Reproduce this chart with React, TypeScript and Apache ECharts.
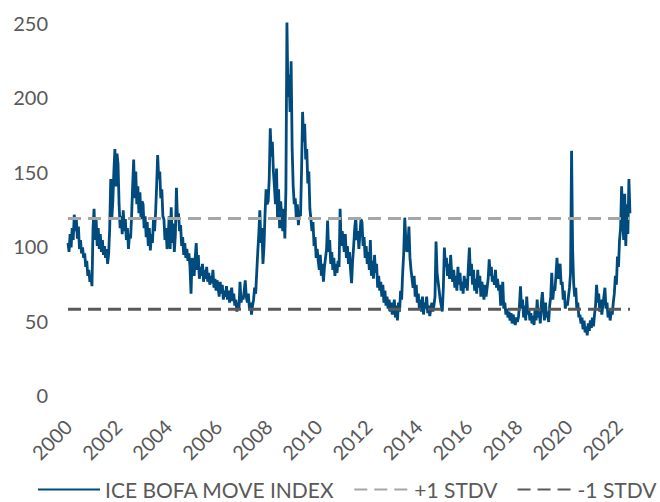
import React, { useEffect, useRef } from "react";
import * as echarts from "echarts";

// Semi-monthly readings of the ICE BofA MOVE Index (24 per year)
const move2000 = [102, 96, 108, 99, 112, 104, 121, 110, 118, 105, 113, 98, 104, 95, 99, 92, 95, 86, 90, 80, 84, 76, 80, 73];
const move2001 = [112, 125, 104, 118, 100, 112, 98, 108, 96, 104, 94, 100, 92, 98, 88, 95, 112, 145, 118, 130, 150, 165, 140, 162];
const move2002 = [155, 128, 112, 120, 108, 124, 110, 118, 104, 112, 98, 108, 105, 120, 140, 158, 132, 150, 128, 140, 122, 136, 118, 130];
const move2003 = [128, 112, 120, 106, 116, 100, 112, 97, 108, 102, 118, 110, 122, 140, 161, 145, 150, 132, 138, 120, 118, 104, 112, 98];
const move2004 = [104, 120, 98, 126, 102, 115, 96, 108, 139, 118, 122, 110, 114, 100, 106, 94, 102, 92, 98, 90, 95, 86, 68, 92];
const move2005 = [88, 80, 92, 102, 84, 94, 78, 86, 80, 88, 76, 84, 78, 86, 76, 82, 74, 80, 75, 84, 72, 78, 70, 77];
const move2006 = [72, 66, 76, 68, 74, 64, 70, 66, 73, 64, 70, 62, 68, 72, 63, 68, 60, 64, 56, 62, 58, 76, 62, 66];
const move2007 = [64, 70, 77, 66, 62, 68, 58, 62, 54, 60, 64, 72, 68, 82, 96, 108, 124, 102, 112, 88, 100, 122, 138, 128];
const move2008 = [130, 145, 179, 160, 170, 150, 140, 128, 152, 118, 138, 112, 130, 120, 110, 125, 105, 138, 250, 200, 215, 190, 224, 165];
const move2009 = [140, 128, 132, 118, 128, 114, 124, 120, 150, 190, 170, 182, 158, 165, 142, 150, 125, 118, 110, 116, 100, 106, 92, 98];
const move2010 = [90, 84, 94, 80, 88, 76, 86, 92, 98, 117, 96, 104, 88, 96, 84, 92, 80, 88, 82, 90, 86, 125, 100, 110];
const move2011 = [104, 96, 108, 92, 100, 88, 96, 84, 75, 90, 100, 112, 119, 104, 110, 98, 108, 118, 116, 100, 106, 92, 100, 88];
const move2012 = [96, 84, 104, 80, 90, 78, 94, 82, 88, 72, 80, 70, 76, 66, 74, 62, 70, 60, 66, 58, 64, 56, 62, 54];
const move2013 = [58, 64, 52, 60, 50, 62, 56, 70, 64, 82, 95, 119, 104, 96, 100, 113, 92, 84, 78, 72, 80, 66, 74, 62];
const move2014 = [68, 58, 64, 56, 66, 54, 62, 58, 66, 55, 60, 53, 58, 62, 56, 60, 66, 103, 82, 76, 70, 64, 60, 56];
const move2015 = [72, 99, 86, 92, 80, 88, 78, 94, 82, 76, 84, 72, 80, 70, 86, 74, 82, 70, 76, 68, 80, 72, 78, 70];
const move2016 = [86, 99, 80, 88, 74, 84, 70, 78, 68, 84, 72, 80, 66, 76, 70, 64, 74, 66, 72, 78, 91, 80, 86, 76];
const move2017 = [80, 74, 84, 72, 78, 70, 74, 60, 66, 76, 58, 62, 54, 58, 52, 56, 50, 55, 48, 54, 50, 47, 52, 49];
const move2018 = [52, 60, 73, 58, 64, 52, 60, 50, 66, 54, 58, 50, 55, 48, 53, 47, 58, 50, 64, 52, 56, 48, 62, 69];
const move2019 = [58, 50, 62, 52, 56, 49, 60, 66, 82, 64, 72, 70, 80, 92, 78, 86, 88, 74, 76, 64, 70, 58, 62, 60];
const move2020 = [66, 72, 82, 164, 98, 75, 66, 72, 58, 62, 52, 54, 48, 52, 44, 50, 42, 46, 40, 48, 43, 50, 45, 52];
const move2021 = [46, 54, 60, 74, 62, 68, 56, 64, 54, 60, 66, 72, 58, 62, 52, 58, 50, 56, 54, 62, 68, 80, 74, 93];
const move2022 = [86, 104, 112, 140, 118, 104, 135, 100, 128, 108, 145, 122];

const startYears = [2000, 2001, 2002, 2003, 2004, 2005, 2006, 2007, 2008, 2009, 2010, 2011, 2012, 2013, 2014, 2015, 2016, 2017, 2018, 2019, 2020, 2021, 2022];
const yearValues = [
  move2000, move2001, move2002, move2003, move2004, move2005, move2006, move2007,
  move2008, move2009, move2010, move2011, move2012, move2013, move2014, move2015,
  move2016, move2017, move2018, move2019, move2020, move2021, move2022,
];

const plusOneStdv = 118.5;
const minusOneStdv = 57.5;
const seriesNames = ["ICE BOFA MOVE INDEX", "+1 STDV", "-1 STDV"];
const xMin = 2000;
const xMax = 2022.46;

const TEXT = "#595959";
const FONT = "Lato, 'Open Sans', sans-serif";

export default function App() {
  const ref = useRef<HTMLDivElement>(null);
  useEffect(() => {
    if (!ref.current) return;
    const chart = echarts.init(ref.current, undefined, { renderer: "svg" });
    const moveData: [number, number][] = [];
    startYears.forEach((y, yi) => {
      yearValues[yi].forEach((v, i) => moveData.push([y + i / 24, v]));
    });
    const lastT = moveData[moveData.length - 1][0];
    chart.setOption({
      animation: false,
      textStyle: { fontFamily: FONT },
      grid: { left: 68, right: 30, top: 22.5, bottom: 107, containLabel: false },
      legend: {
        left: 37,
        top: 479,
        width: 623,
        padding: 0,
        itemWidth: 62,
        itemHeight: 14,
        itemGap: 12,
        itemStyle: { opacity: 0 },
        lineStyle: { dashOffset: 13 },
        textStyle: { color: TEXT, fontSize: 21, fontFamily: FONT },
        data: seriesNames,
      },
      xAxis: {
        type: "value",
        min: xMin,
        max: xMax,
        interval: 2,
        axisLine: { show: false },
        axisTick: { show: false },
        splitLine: { show: false },
        axisLabel: {
          rotate: 45,
          margin: 28,
          color: TEXT,
          fontSize: 20,
          fontFamily: FONT,
          showMaxLabel: false,
          formatter: (v: number) => String(Math.round(v)),
        },
      },
      yAxis: {
        type: "value",
        min: 0,
        max: 250,
        interval: 50,
        axisLine: { show: false },
        axisTick: { show: false },
        splitLine: { show: false },
        axisLabel: { color: TEXT, fontSize: 20, margin: 20, fontFamily: FONT },
      },
      series: [
        {
          name: seriesNames[0],
          type: "line",
          data: moveData,
          symbol: "none",
          lineStyle: { color: "#004b7d", width: 2.8 },
          itemStyle: { color: "#004b7d" },
        },
        {
          name: seriesNames[1],
          type: "line",
          data: [[xMin, plusOneStdv], [lastT, plusOneStdv]],
          symbol: "none",
          lineStyle: { color: "#a6a6a6", width: 3, type: [13, 7] },
          itemStyle: { color: "#a6a6a6" },
        },
        {
          name: seriesNames[2],
          type: "line",
          data: [[xMin, minusOneStdv], [lastT, minusOneStdv]],
          symbol: "none",
          lineStyle: { color: "#595959", width: 3, type: [13, 7] },
          itemStyle: { color: "#595959" },
        },
      ],
    });
    return () => chart.dispose();
  }, []);
  return <div ref={ref} style={{ width: 660, height: 502, position: "absolute", left: 0, top: 0 }} />;
}
